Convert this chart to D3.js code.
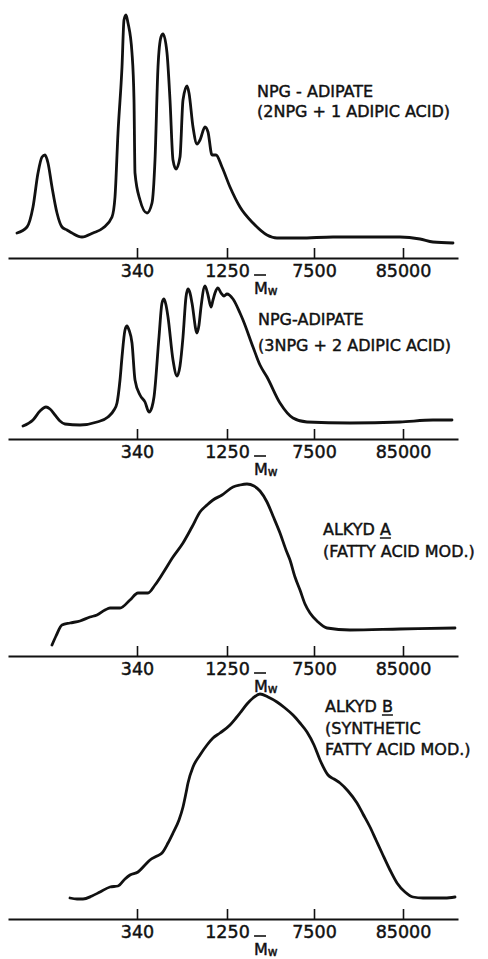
<!DOCTYPE html>
<html>
<head>
<meta charset="utf-8">
<script src="https://cdn.jsdelivr.net/npm/d3@7"></script>
<style>
  html, body { margin: 0; padding: 0; background: #fff; }
  svg { display: block; }
  text { font-family: "DejaVu Sans", sans-serif; fill: #111; stroke: #111; stroke-width: 0.45px; }
</style>
</head>
<body>
<svg id="chart" width="488" height="959"></svg>
<script>
const W = 488, H = 959;

// elution count on x (same for all four traces), ticks labelled by Mw
const tickCounts = [12.9, 21.9, 30.6, 39.5];
const tickLabels = ['340', '1250', '7500', '85000'];

// detector response, [count, response]
const npg21 = [
  [0.9,6],[1.9,9],[2.5,19],[3.0,36],[3.4,44],[3.7,45],[4.0,41],[4.4,29],[4.9,16],
  [5.4,9],[5.9,7.5],[6.4,6],[7.4,4],[8.5,6],[9.5,8.5],[10.4,14],[10.7,24],[11.0,56],
  [11.4,89],[11.6,112.5],[11.8,115],[12.0,111],[12.4,96],[12.6,72.5],[12.7,36],
  [13.2,22.5],[13.9,16],[14.4,21],[14.7,42.5],[15.0,89],[15.3,104],[15.5,105.5],
  [15.9,96],[16.2,72.5],[16.5,42.5],[16.8,38],[17.2,44],[17.5,72.5],[17.9,79.5],
  [18.1,76],[18.5,59],[18.9,50.5],[19.2,52.5],[19.7,59],[20.0,56.5],[20.4,45],
  [20.8,45],[21.4,39],[22.2,29],[23.2,19],[24.5,11],[25.9,5],[26.9,3.5],[29.2,3.5],
  [32.5,4],[35.9,4],[39.2,4],[41.2,3],[42.5,1.5],[44.5,1]
];
const npg32 = [
  [1.5,0],[2.5,3],[3.2,7.5],[3.8,9.5],[4.2,8.5],[4.7,5.5],[5.2,2.5],[5.7,1],[7.2,0.5],
  [8.9,2],[10.0,4.5],[10.6,8],[10.9,11.5],[11.2,23],[11.4,34.5],[11.7,48],[11.9,50],
  [12.1,48],[12.4,41.5],[12.7,23],[13.2,15.5],[13.7,12],[14.1,7],[14.4,9.5],[14.6,14.5],
  [15.1,44.5],[15.4,61.5],[15.6,63.5],[15.8,60.5],[16.0,54.5],[16.5,33],[16.9,25],
  [17.2,30],[17.5,44.5],[17.8,64.5],[18.0,68.5],[18.2,66.5],[18.4,61.5],[18.9,46.5],
  [19.1,50.5],[19.3,59.5],[19.7,70],[20.0,65.5],[20.3,59.5],[20.5,63],[20.7,66.5],
  [21.0,69],[21.3,66.5],[21.6,65],[21.9,66],[22.5,63.5],[23.2,56.5],[23.5,53],
  [24.5,39.5],[25.2,30.5],[25.9,24.5],[27.2,11.5],[28.5,4],[29.9,2],[34.2,1.5],
  [39.2,2],[42.5,3],[44.4,3]
];
const alkydA = [
  [4.4,0.5],[4.8,5],[5.4,10.5],[6.2,11.5],[7.2,12.5],[8.2,14.5],[8.9,15.5],[9.7,18],
  [10.2,19],[11.2,19],[12.2,23],[13.0,26.5],[14.0,26.5],[14.7,30.5],[15.5,36.5],
  [16.5,44.5],[17.5,51.5],[18.4,59.5],[19.2,67],[19.9,70.5],[20.5,73],[21.4,75.5],
  [22.5,79.5],[23.2,80.5],[23.9,81],[24.6,80],[25.2,77.5],[25.9,72],[26.5,65],
  [27.2,56.5],[27.8,48],[28.2,43],[28.7,34.5],[29.2,28],[29.7,21],[30.2,16.5],
  [31.0,12],[31.9,9],[34.2,8],[39.2,8.5],[44.7,9]
];
const alkydB = [
  [6.2,0.5],[6.9,0],[7.5,0],[8.4,1.5],[9.2,3.5],[10.2,6],[11.0,6.5],[11.7,10],[12.2,12],
  [13.0,13.5],[13.7,17],[14.2,19.5],[14.9,21.5],[15.4,23],[16.0,28],[16.5,33],
  [17.1,39.5],[17.5,46],[17.8,53],[18.0,58],[18.5,66],[19.2,72],[19.9,77],[20.5,80.5],
  [21.2,83],[22.2,87],[22.8,90.5],[23.2,93],[23.9,97.5],[24.5,100.5],[25.2,102.5],
  [26.0,101],[26.9,98.5],[27.7,95.5],[28.5,92],[29.2,88],[29.9,83.5],[30.6,77],
  [31.2,69.5],[32.0,62],[32.6,60],[33.2,58],[34.0,54],[34.9,48],[35.5,42.5],
  [36.2,36],[36.8,29.5],[37.4,23],[38.2,14.5],[38.9,8],[39.7,3.5],[40.5,1],
  [41.5,0.5],[42.5,0.5],[43.7,0.5],[44.7,1]
];

// labels per trace (underlined letter marked separately)
const labels1 = ['NPG - ADIPATE', '(2NPG + 1 ADIPIC ACID)'];
const labels2 = ['NPG-ADIPATE', '(3NPG + 2 ADIPIC ACID)'];
const labels3 = ['ALKYD A', '(FATTY ACID MOD.)'];
const labels4 = ['ALKYD B', '(SYNTHETIC', 'FATTY ACID MOD.)'];

const panels = [
  { data: npg21,  yMax: 115, base: 245, axisY: 258, labels: labels1, lx: 257, ly: 97,  lh: 20, under: false },
  { data: npg32,  yMax: 70,  base: 426, axisY: 439, labels: labels2, lx: 258, ly: 325, lh: 26, under: false },
  { data: alkydA, yMax: 81,  base: 646, axisY: 656, labels: labels3, lx: 323, ly: 535, lh: 22, under: true },
  { data: alkydB, yMax: 103, base: 899, axisY: 919, labels: labels4, lx: 325, ly: 712, lh: 21.5, under: true },
];

const svg = d3.select('#chart');
const x = d3.scaleLinear().domain([0, 45]).range([8, 458]);

panels.forEach(p => {
  const g = svg.append('g');
  const y = d3.scaleLinear().domain([0, p.yMax]).range([p.base, p.base - 2 * p.yMax]);

  const line = d3.line()
    .x(d => x(d[0]))
    .y(d => y(d[1]))
    .curve(d3.curveMonotoneX);

  g.append('path')
    .datum(p.data)
    .attr('d', line)
    .attr('fill', 'none')
    .attr('stroke', '#111')
    .attr('stroke-width', 2.8)
    .attr('stroke-linejoin', 'round')
    .attr('stroke-linecap', 'round');

  // axis: ticks point up, labels underneath
  const ax = g.append('g')
    .attr('transform', `translate(0,${p.axisY})`)
    .call(d3.axisBottom(x)
      .tickValues(tickCounts)
      .tickFormat((d, i) => tickLabels[i])
      .tickSizeInner(-10)
      .tickSizeOuter(0)
      .tickPadding(7));
  ax.select('.domain').attr('stroke', '#111').attr('stroke-width', 2.2);
  ax.selectAll('.tick line').attr('stroke', '#111').attr('stroke-width', 1.6);
  ax.selectAll('.tick text')
    .attr('font-family', '"DejaVu Sans", sans-serif')
    .attr('font-size', 17.5)
    .attr('fill', '#111');

  // Mw with overbar
  const mx = 254;
  g.append('line')
    .attr('x1', mx).attr('x2', mx + 12)
    .attr('y1', p.axisY + 17).attr('y2', p.axisY + 17)
    .attr('stroke', '#111').attr('stroke-width', 1.6);
  const mw = g.append('text')
    .attr('x', mx).attr('y', p.axisY + 36)
    .attr('font-size', 16);
  mw.append('tspan').text('M');
  mw.append('tspan').attr('font-size', 12).attr('dy', 1).attr('fill', '#111').text('w');

  // curve label
  p.labels.forEach((t, i) => {
    const tx = g.append('text')
      .attr('x', p.lx)
      .attr('y', p.ly + i * p.lh)
      .attr('font-size', 16)
      .text(t);
    if (i === 0 && p.under) {
      // underline the trailing letter (A / B)
      const tl = tx.node().getComputedTextLength();
      g.append('line')
        .attr('x1', p.lx + tl - 11).attr('x2', p.lx + tl)
        .attr('y1', p.ly + 3).attr('y2', p.ly + 3)
        .attr('stroke', '#111').attr('stroke-width', 1.5);
    }
  });
});
</script>
</body>
</html>
